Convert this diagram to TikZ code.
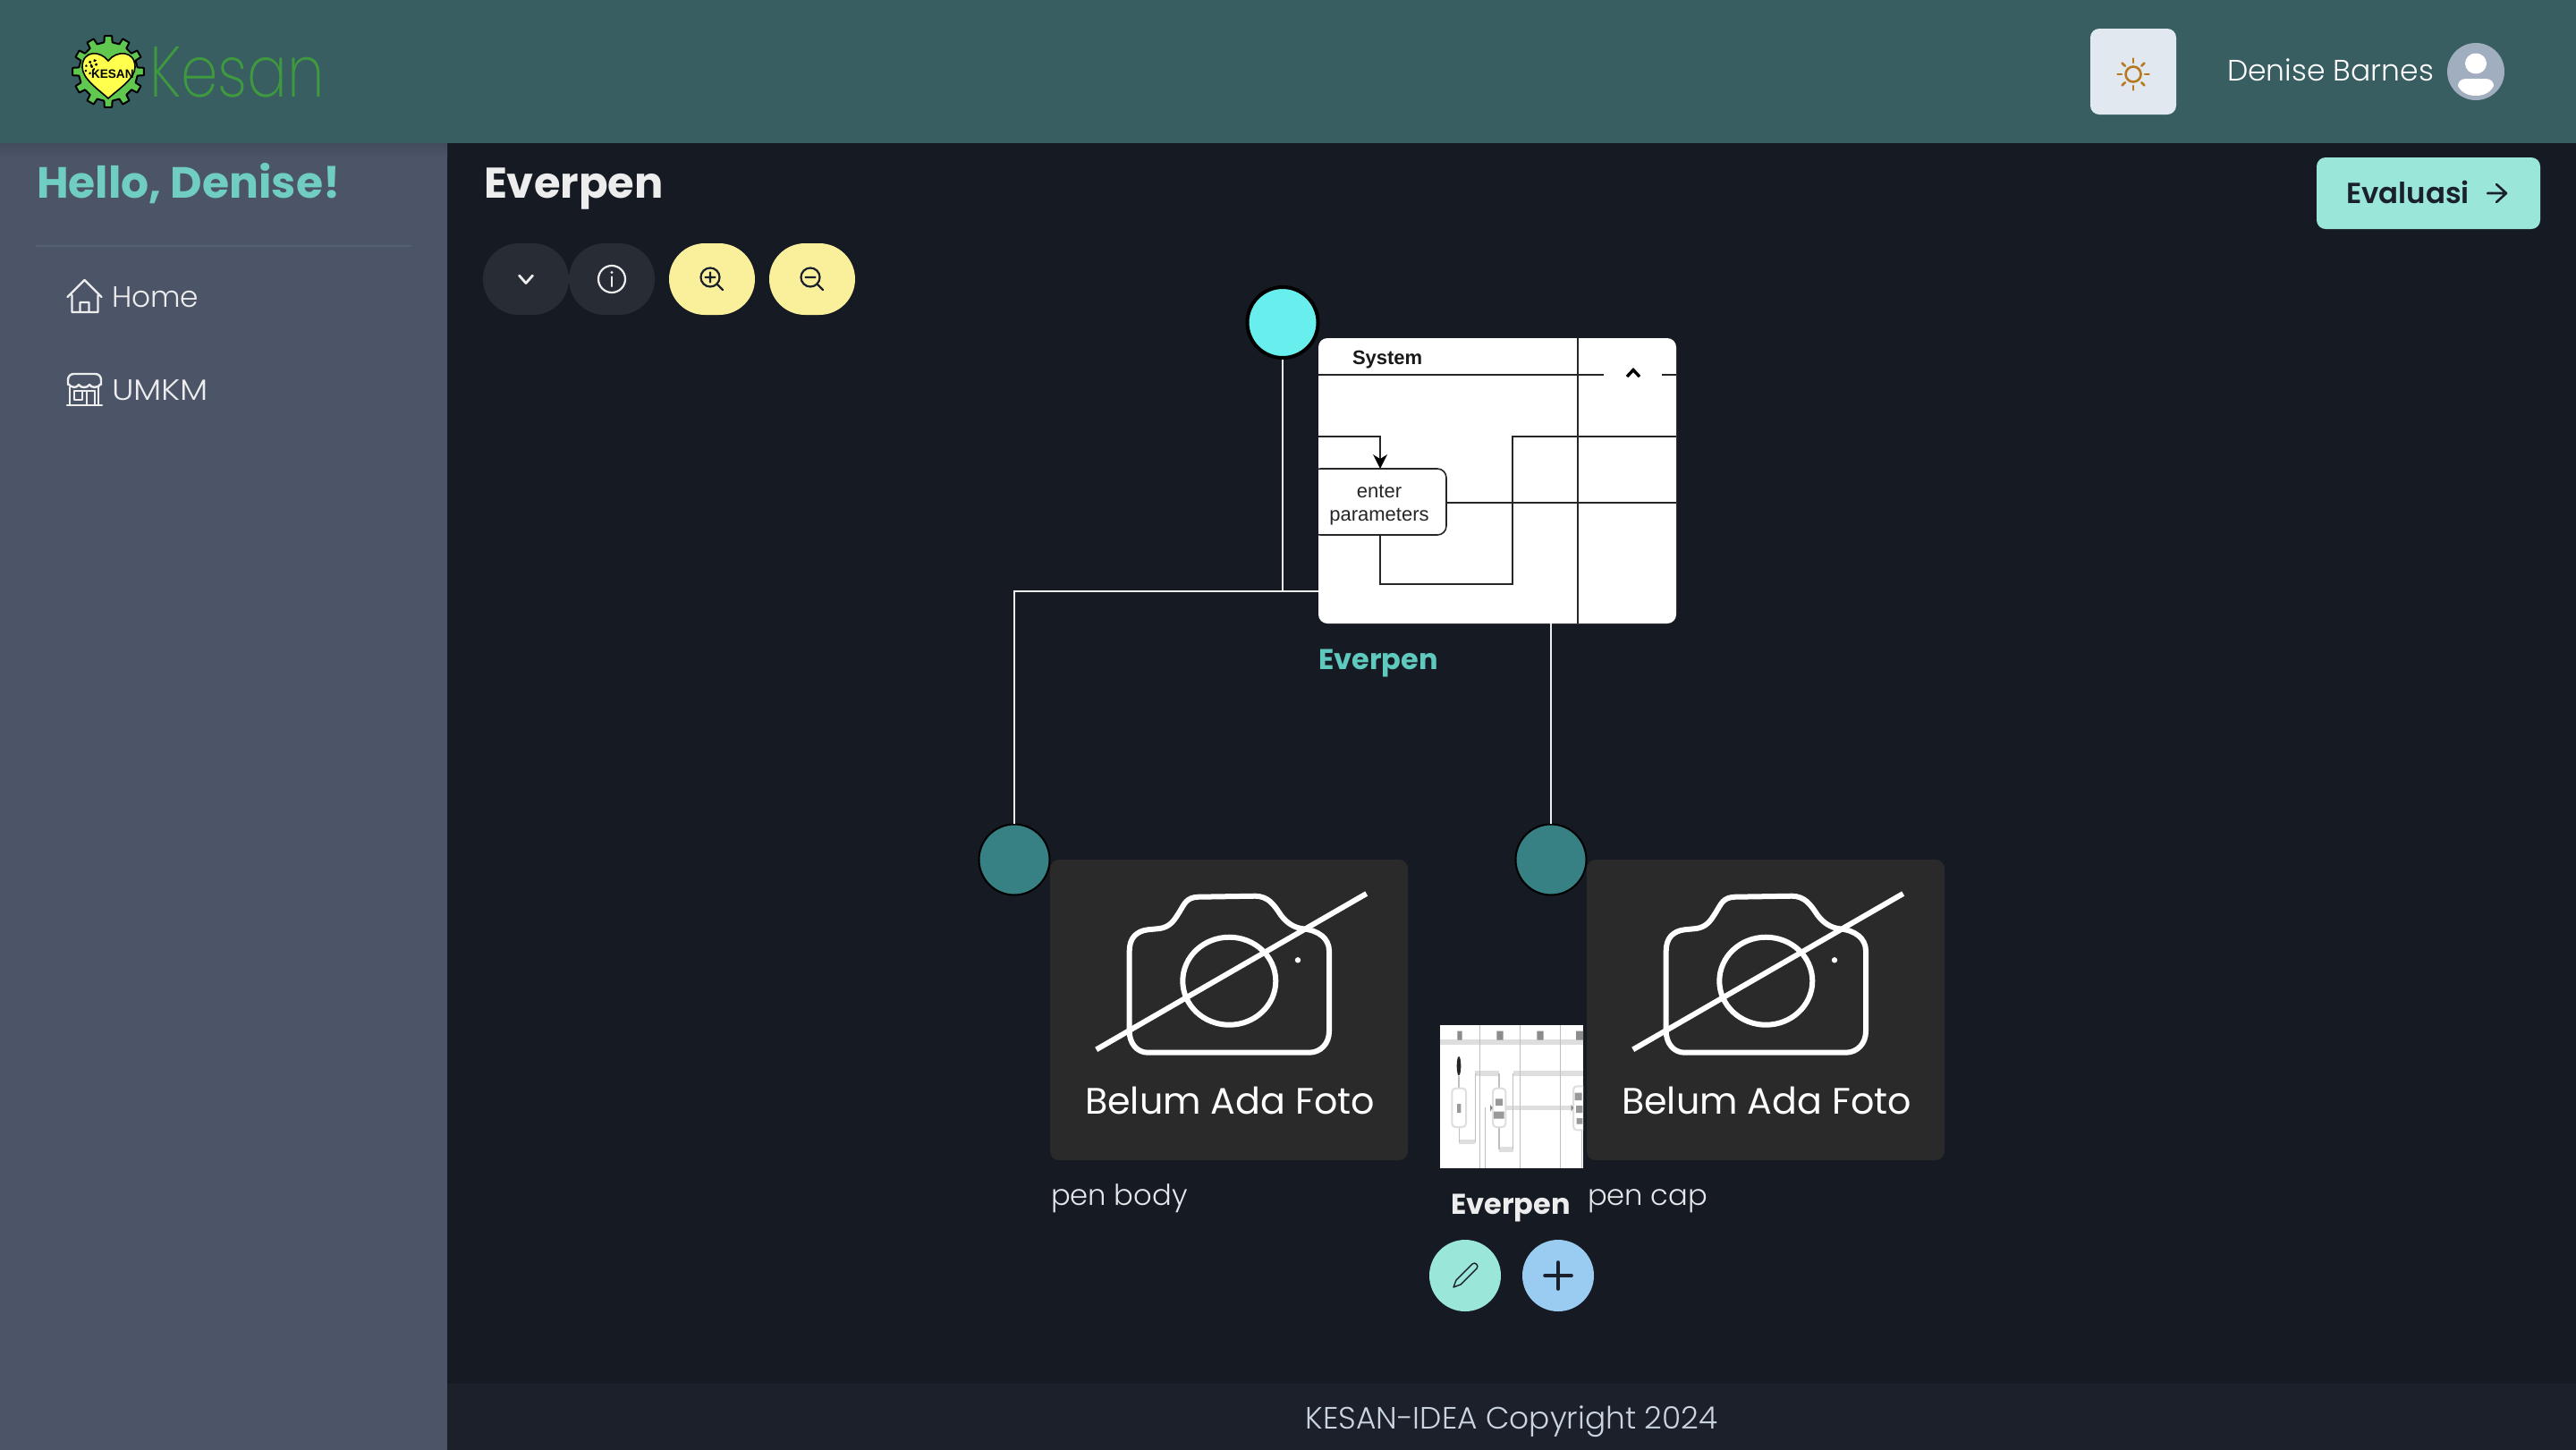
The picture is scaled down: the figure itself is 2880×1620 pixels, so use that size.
\documentclass[tikz,border=0pt]{standalone}
\usepackage{fontspec}
\usetikzlibrary{calc}
\setmainfont{Poppins}
\newfontfamily\plight{Poppins Light}
\newfontfamily\pthin[FakeStretch=0.83]{Poppins ExtraLight}
\newfontfamily\psemi{Poppins SemiBold}
\newfontfamily\pbold{Poppins Bold}
\newfontfamily\arialf{Liberation Sans}
\definecolor{hdr}{HTML}{385E61}
\definecolor{side}{HTML}{4C5568}
\definecolor{bgm}{HTML}{161A23}
\definecolor{foot}{HTML}{1B202B}
\definecolor{mint}{HTML}{9AE6D8}
\definecolor{ink}{HTML}{1A202C}
\definecolor{soft}{HTML}{EDEDED}
\definecolor{teal1}{HTML}{70CDC2}
\definecolor{teal2}{HTML}{5FC9BE}
\definecolor{yel}{HTML}{FAEF9B}
\definecolor{drk}{HTML}{282C35}
\definecolor{card}{HTML}{2A2A2A}
\definecolor{thumbg}{HTML}{DEDEDE}
\tikzset{
  lbl/.style={anchor=base west,inner sep=0pt,outer sep=0pt},
  lblc/.style={anchor=base,inner sep=0pt,outer sep=0pt},
  pill/.style={rounded corners=10pt,inner sep=0pt,minimum width=24pt,minimum height=20pt},
  rootdot/.style={circle,draw=black,line width=1pt,fill={rgb,255:red,104;green,239;blue,237},minimum size=19.75pt,inner sep=0pt},
  childdot/.style={circle,draw=black,line width=.5pt,fill={rgb,255:red,55;green,128;blue,131},minimum size=19.75pt,inner sep=0pt},
  link/.style={draw=soft,line width=.55pt},
  camline/.style={draw=white,line width=1.5pt},
  roundbtn/.style={circle,minimum size=20pt,inner sep=0pt},
  iconw/.style={draw=soft,line width=.6pt,line cap=round,line join=round},
  iconk/.style={draw=ink,line width=.65pt,line cap=round,line join=round},
  umlline/.style={draw=black!85,line width=.4pt},
  thumbband/.style={draw=thumbg,line width=1.3pt},
  thumbthin/.style={draw=black!25,line width=.3pt},
}
\begin{document}
\begin{tikzpicture}[x=.25pt,y=-.25pt]
\useasboundingbox (0,0) rectangle (2880,1620);
% backgrounds
\fill[bgm] (-10,-10) rectangle (2890,1630);
\fill[hdr] (-10,-10) rectangle (2890,160);
\fill[side] (-10,160) rectangle (500,1630);
\shade[top color=side!88!black,bottom color=side] (-10,160) rectangle (500,176);
\fill[foot] (500,1547) rectangle (2890,1630);
% logo
\begin{scope}[shift={(121,80)}]
  \draw[black,line width=.5pt,fill={rgb,255:red,97;green,200;blue,79},line join=round]
    (-8:33) \foreach \a in {0,30,...,330}{ -- (\a-8:33) -- (\a-6:40) -- (\a+6:40) -- (\a+8:33) } -- cycle;
\end{scope}
\draw[black,line width=.4pt,fill={rgb,255:red,255;green,255;blue,77}]
  (121,68) .. controls (112,56) and (92,56) .. (92,75) .. controls (92,88) and (110,100) .. (121,110)
  .. controls (132,100) and (151,88) .. (151,75) .. controls (151,56) and (130,56) .. (121,68) -- cycle;
\draw[black,line width=.5pt,densely dotted] (100,77) circle (5);
\draw[black,line width=.6pt,densely dotted] (104,71) circle (4);
\node[lbl,font=\arialf\bfseries\fontsize{3.4}{4}\selectfont,text=black] (logotext) at (102,87) {KESAN};
\node[lbl,font=\pthin\fontsize{20}{24}\selectfont,text={rgb,255:red,63;green,154;blue,63}] (brand) at (167,108) {Kesan};
% theme button
\fill[rounded corners=2.5pt,fill={rgb,255:red,226;green,232;blue,240}] (2337,32) rectangle (2433,128);
\draw[draw={rgb,255:red,183;green,121;blue,31},line width=.65pt] (2385,83) circle (8.5);
\foreach \a in {0,45,...,315}
  \draw[draw={rgb,255:red,183;green,121;blue,31},line width=.65pt,line cap=round] ($(2385,83)+(\a:13)$) -- ($(2385,83)+(\a:17.5)$);
\node[lbl,font=\plight\fontsize{8.25}{10}\selectfont,text=white] (user) at (2490,90.5) {Denise Barnes};
\fill[fill={rgb,255:red,160;green,174;blue,192}] (2768,80) circle (32);
\fill[white] (2768,71) ellipse [x radius=12,y radius=11.5];
\fill[white] (2757,88) -- (2779,88) .. controls (2785,88) and (2788,92) .. (2788,96) .. controls (2784,104) and (2776,107) .. (2768,107)
  .. controls (2760,107) and (2752,104) .. (2748,96) .. controls (2748,92) and (2751,88) .. (2757,88) -- cycle;
% evaluate button
\fill[mint,rounded corners=2.5pt] (2590,176) rectangle (2840,256);
\node[lbl,font=\psemi\fontsize{8.1}{10}\selectfont,text=ink] (evaluasi) at (2623,227) {Evaluasi};
\draw[iconk] (2781,216) -- (2802,216) (2791,206) -- (2802,216) -- (2791,226);
% sidebar
\node[lbl,font=\pbold\fontsize{12.2}{14}\selectfont,text=teal1] (hello) at (41,221) {Hello, Denise!};
\draw[draw={rgb,255:red,86;green,96;blue,117},line width=.4pt] (40,275) -- (460,275);
\draw[iconw] (75.5,332) -- (94.5,313) -- (113.5,332) (80.5,330) -- (80.5,349) -- (109.5,349) -- (109.5,330) (89.5,349) -- (89.5,338) -- (99.5,338) -- (99.5,349);
\node[lbl,font=\plight\fontsize{8.2}{10}\selectfont,text=soft] (home) at (125,343) {Home};
\draw[iconw,rounded corners=1.6pt] (76,430) -- (76,418) -- (113,418) -- (113,430);
\draw[iconw] (76,429) .. controls (80,434) and (86,434) .. (88,430) .. controls (90,434) and (98,434) .. (100,430) .. controls (102,434) and (110,434) .. (113,429);
\draw[iconw] (78,433) -- (78,452) (110,433) -- (110,452) (75,453) -- (114,453) (83,437) -- (106,437)
  (83,437) rectangle (92,447) (97,453) -- (97,437) (106,437) -- (106,453);
\node[lbl,font=\plight\addfontfeatures{FakeStretch=1.13}\fontsize{8.2}{10}\selectfont,text=soft] (umkm) at (125,447) {UMKM};
% title and toolbar
\node[lbl,font=\pbold\fontsize{12}{14}\selectfont,text=soft] (title) at (541,221) {Everpen};
\node[pill,fill=drk] (tgl) at (588,312) {};
\node[pill,fill=drk] (inf) at (684,312) {};
\node[pill,fill=yel] (zin) at (796,312) {};
\node[pill,fill=yel] (zout) at (908,312) {};
\draw[iconw,line width=.7pt] (580.5,308) -- (588,316.5) -- (595.5,308);
\draw[iconw,line width=.55pt] (684,312) circle (15);
\draw[iconw,line width=.55pt] (684,309.5) -- (684,320);
\fill[soft] (684,304.5) circle (1.6);
\draw[iconk,line width=.55pt] (794,310) circle (10.5) (801.5,317.5) -- (808,324) (788.5,310) -- (799.5,310) (794,304.5) -- (794,315.5);
\draw[iconk,line width=.55pt] (906,310) circle (10.5) (913.5,317.5) -- (920,324) (900.5,310) -- (911.5,310);
% connectors and tree nodes
\node[rootdot] (root) at (1434,360.5) {};
\node[childdot] (child1) at (1134,961) {};
\node[childdot] (child2) at (1734,961) {};
\coordinate (junction) at (1134,661);
\coordinate (rootdrop) at (1434,661);
\coordinate (imgedge) at (1474,661);
\coordinate (imgbottom) at (1734,697);
\draw[link] (root) -- (rootdrop);
\draw[link] (imgedge) -- (junction) -- (child1);
\draw[link] (imgbottom) -- (child2);
% root image
\fill[white,rounded corners=2.5pt] (1474,378) rectangle (1874,697);
\begin{scope}
  \clip[rounded corners=2.5pt] (1474,378) rectangle (1874,697);
  \draw[umlline] (1764,378) -- (1764,697);
  \draw[umlline] (1474,419) -- (1793,419) (1858,419) -- (1874,419);
  \draw[umlline] (1474,488) -- (1543,488) -- (1543,520);
  \fill[black] (1543,524) -- (1535,508) -- (1543,513) -- (1551,508) -- cycle;
  \draw[umlline,rounded corners=2.5pt] (1466,524) rectangle (1617,598);
  \draw[umlline] (1617,562) -- (1874,562);
  \draw[umlline] (1543,598) -- (1543,653) -- (1691,653) -- (1691,488) -- (1874,488);
\end{scope}
\draw[black,line width=.85pt,line join=miter] (1819,421) -- (1826,413.5) -- (1833,421);
\node[lbl,font=\arialf\bfseries\fontsize{5.5}{6}\selectfont,text=black!90] (system) at (1512,407) {System};
\node[lblc,font=\arialf\fontsize{5.5}{6}\selectfont,text=black!85] (enter) at (1542,556.5) {enter};
\node[lblc,font=\arialf\fontsize{5.5}{6}\selectfont,text=black!85] (params) at (1542,582.5) {parameters};
\node[lbl,font=\pbold\fontsize{8}{10}\selectfont,text=teal2] (rootname) at (1474,748) {Everpen};
% cards
\foreach \ox/\nm/\cp in {1174/card1/pen body,1774/card2/pen cap}{
  \begin{scope}[shift={(\ox,961)}]
    \fill[card,rounded corners=2.5pt] (0,0) rectangle (400,336);
    \draw[camline,line join=round] (109.3,215.7) -- (289.3,215.7) .. controls (303,215.7) and (312,205) .. (312,192)
      -- (312,102) .. controls (312,88) and (300,79) .. (282.7,77.3) .. controls (272,76) and (264,70) .. (258,62)
      .. controls (250,50) and (244,41) .. (229.3,40.7) -- (166,41.7) .. controls (152,42) and (150,50) .. (144.3,59)
      .. controls (138,69) and (134,75) .. (122.7,77) -- (109.3,78.3) .. controls (96,80) and (88.7,88) .. (88.7,102)
      -- (88.7,192) .. controls (88.7,205) and (97,215.7) .. (109.3,215.7) -- cycle;
    \draw[camline] (200.3,135.7) ellipse [x radius=52,y radius=49];
    \fill[white] (277,112.3) circle (3.2);
    \draw[camline] (51.7,212.3) -- (353.7,38);
    \node[lblc,font=\fontsize{10.3}{12}\selectfont,text=white] (\nm foto) at (201,284) {Belum Ada Foto};
    \node[lbl,font=\plight\fontsize{8.05}{10}\selectfont,text={rgb,255:red,229;green,231;blue,235}] (\nm label) at (1,386) {\cp};
  \end{scope}
}
% thumbnail
\fill[white] (1610,1146) rectangle (1770,1306);
\begin{scope}[shift={(1560,1120)},x=.0833333pt,y=-.0833333pt]
  \clip (150,78) rectangle (630,558);
  \draw[thumbband] (150,135) -- (630,135);
  \draw[thumbband] (268,240) -- (348,240) (395,240) -- (630,240) (370,355) -- (597,355);
  \draw[thumbband] (214,470) -- (266,470) (348,495) -- (395,495);
  \draw[thumbthin] (284,78) -- (284,558) (418,78) -- (418,558) (554,78) -- (554,558);
  \draw[thumbthin] (268,240) -- (268,470) (214,420) -- (214,470) (348,420) -- (348,495) (395,495) -- (395,240) (302,355) -- (302,558) (625,430) -- (625,558) (213,250) -- (213,290) (348,240) -- (348,290);
  \draw[draw=thumbg,line width=.5pt,fill=white,rounded corners=1pt] (190,290) rectangle (237,420);
  \draw[draw=thumbg,line width=.5pt,fill=white,rounded corners=1pt] (327,290) rectangle (370,420);
  \draw[draw=thumbg,line width=.5pt,fill=white,rounded corners=1pt] (597,283) rectangle (650,430);
  \fill[black!85] (213,215) ellipse [x radius=7,y radius=32];
  \fill[black!45] (208,98) rectangle (224,128) (340,98) rectangle (362,128) (475,98) rectangle (497,128) (606,98) rectangle (630,128);
  \fill[black!40] (207,342) rectangle (220,372) (336,325) rectangle (360,348) (330,368) rectangle (365,392) (602,305) rectangle (626,330) (606,348) rectangle (628,372) (608,390) rectangle (628,410);
  \fill[black!50] (318,345) -- (326,355) -- (318,368) -- cycle (590,345) -- (597,355) -- (590,368) -- cycle;
\end{scope}
\node[lbl,font=\pbold\fontsize{8}{10}\selectfont,text=soft] (nodename) at (1622,1357) {Everpen};
% action buttons
\node[roundbtn,fill=mint] (edit) at (1638,1426) {};
\node[roundbtn,fill={rgb,255:red,154;green,203;blue,240}] (add) at (1742,1426) {};
\draw[ink,line width=.35pt,line join=round] (1625,1439) -- (1628,1431) -- (1646,1413) .. controls (1649,1410) and (1654,1415) .. (1651,1418) -- (1633,1436) -- cycle;
\draw[iconk,line width=.9pt] (1727,1426) -- (1757,1426) (1742,1411) -- (1742,1441);
% footer
\node[lblc,font=\plight\fontsize{8.6}{10}\selectfont,text={rgb,255:red,203;green,213;blue,224}] (copy) at (1690,1597) {KESAN-IDEA Copyright 2024};
\end{tikzpicture}
\end{document}
